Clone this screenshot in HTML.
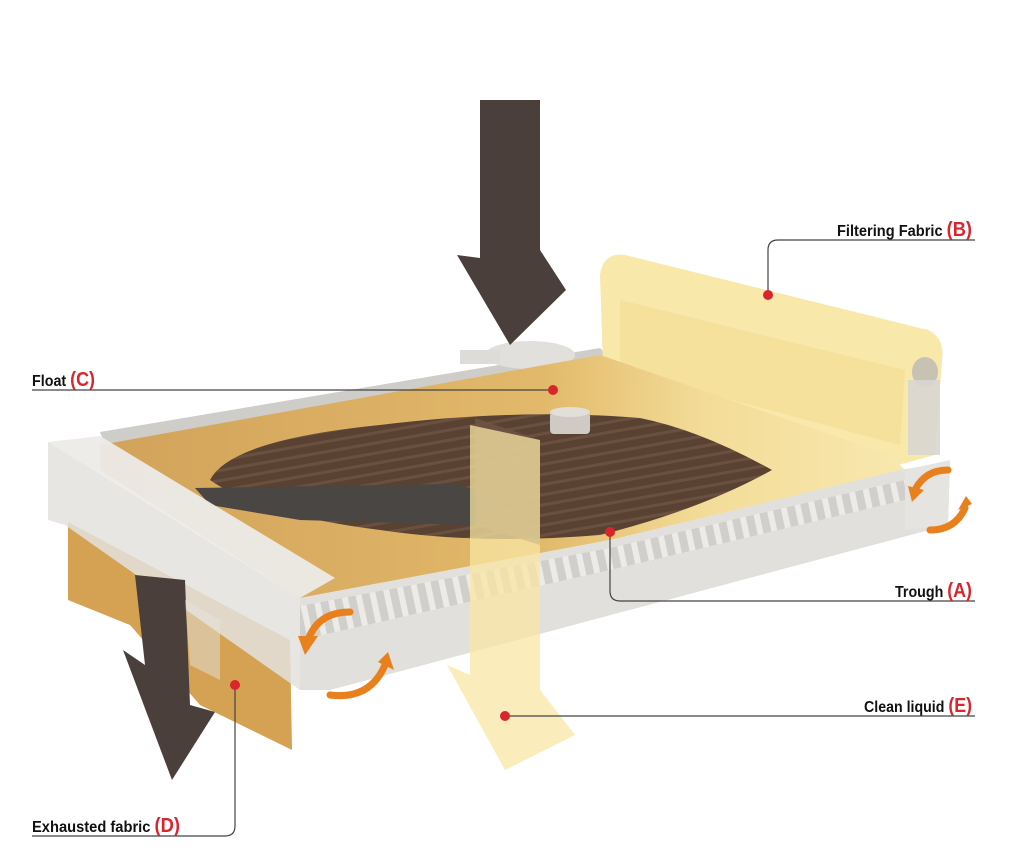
<!DOCTYPE html>
<html><head><meta charset="utf-8"><style>
html,body{margin:0;padding:0;background:#fff;}
svg{display:block}
text{font-family:"Liberation Sans Narrow","Liberation Sans",sans-serif;font-weight:bold;font-size:16px;fill:#111}
.r{fill:#d8262c;font-size:20px}
</style></head><body>
<svg width="1024" height="865" viewBox="0 0 1024 865" xmlns="http://www.w3.org/2000/svg">
<defs>
<linearGradient id="fab" x1="0" y1="0" x2="1" y2="0">
<stop offset="0" stop-color="#d2a25a"/><stop offset="0.55" stop-color="#e2b96a"/><stop offset="0.75" stop-color="#f3dc98"/><stop offset="1" stop-color="#f8e8ae"/>
</linearGradient>
<pattern id="grid" width="14" height="14" patternUnits="userSpaceOnUse" patternTransform="rotate(-12)">
<rect width="14" height="14" fill="#cfcdc9"/><rect x="0" y="0" width="6" height="14" fill="#eeece8"/>
</pattern>
<pattern id="mesh" width="10" height="10" patternUnits="userSpaceOnUse" patternTransform="rotate(-10)">
<rect width="10" height="10" fill="#5a4232"/><rect y="0" width="10" height="3" fill="#6a5040"/>
</pattern>
</defs>

<polygon points="100,432 600,348 610,358 105,445" fill="#cfcdc9"/>
<polygon points="170,440 330,410 332,415 172,446" fill="#f2f2f0"/>
<ellipse cx="530" cy="355" rx="45" ry="14" fill="#e2e0dc"/>
<rect x="460" y="350" width="40" height="14" fill="#dedcd8"/>

<path d="M600,275 Q603,252 625,255 L928,330 Q945,338 942,360 L935,455 L880,470 L603,365 Z" fill="#f8e8aa"/>
<path d="M620,300 L905,370 L900,445 L620,370 Z" fill="#f3dc92" opacity="0.6"/>
<ellipse cx="925" cy="372" rx="13" ry="15" fill="#c8c2b4"/>
<rect x="908" y="380" width="32" height="75" fill="#d8d6d2" opacity="0.9"/>

<polygon points="100,445 600,355 890,455 905,470 610,540 300,598 100,470" fill="url(#fab)"/>
<polygon points="300,598 610,540 900,470 950,462 948,525 330,690 300,690" fill="#e2e0dc"/>
<polygon points="300,606 610,548 905,480 905,500 610,570 300,640" fill="url(#grid)" opacity="0.9"/>
<polygon points="905,470 950,460 948,525 905,530" fill="#e6e4e0"/>

<path d="M210,480 Q230,440 380,425 Q520,408 640,418 Q700,430 772,470 Q700,510 600,535 Q480,545 380,530 Q260,515 210,480 Z" fill="url(#mesh)"/>
<polygon points="195,488 455,484 505,498 470,525 300,520 210,505" fill="#4a4644"/>
<polygon points="475,418 540,440 540,545 475,525" fill="#6e5444" opacity="0.85"/>
<rect x="550" y="412" width="40" height="22" rx="4" fill="#cfcbc4"/>
<ellipse cx="570" cy="412" rx="20" ry="5" fill="#e2ded8"/>

<polygon points="68,522 290,640 292,750 200,705 130,625 68,600" fill="#d4a252"/>
<polygon points="48,442 100,436 335,578 300,598" fill="#ecebe8" opacity="0.95"/>
<polygon points="48,442 300,598 300,690 65,525 48,520" fill="#e4e2de" opacity="0.85"/>
<polygon points="135,575 185,580 190,705 215,712 172,780 123,650 145,665" fill="#4a3f3a"/>
<polygon points="185,600 220,620 220,680 190,665" fill="#e4e2de" opacity="0.5"/>

<polygon points="470,425 540,440 540,690 575,735 505,770 447,665 470,675" fill="#f8e6a4" opacity="0.75"/>

<polygon points="480,100 540,100 540,250 566,290 510,345 457,255 480,258" fill="#4a3f3a"/>

<g fill="none" stroke="#e8801e" stroke-width="7" stroke-linecap="round">
<path d="M350,612 Q318,612 308,640"/>
<path d="M330,695 Q370,700 385,665"/>
<path d="M948,470 Q925,470 915,490"/>
<path d="M930,530 Q955,530 965,508"/>
</g>
<g fill="#e8801e">
<polygon points="298,636 318,636 305,655"/>
<polygon points="378,662 394,670 388,652"/>
<polygon points="908,486 924,490 912,502"/>
<polygon points="958,510 972,504 966,496"/>
</g>

<g fill="none" stroke="#444" stroke-width="1.2">
<path d="M975,240 L778,240 Q768,240 768,250 L768,295"/>
<path d="M32,390 L550,390"/>
<path d="M975,601 L620,601 Q610,601 610,591 L610,532"/>
<path d="M975,716 L505,716"/>
<path d="M32,836 L225,836 Q235,836 235,826 L235,685"/>
</g>
<g fill="#d8262c">
<circle cx="768" cy="295" r="5"/>
<circle cx="553" cy="390" r="5"/>
<circle cx="610" cy="532" r="5"/>
<circle cx="505" cy="716" r="5"/>
<circle cx="235" cy="685" r="5"/>
</g>

<text x="837" y="236" textLength="135" lengthAdjust="spacingAndGlyphs">Filtering Fabric <tspan class="r">(B)</tspan></text>
<text x="32" y="386" textLength="63" lengthAdjust="spacingAndGlyphs">Float <tspan class="r">(C)</tspan></text>
<text x="895" y="597" textLength="77" lengthAdjust="spacingAndGlyphs">Trough <tspan class="r">(A)</tspan></text>
<text x="864" y="712" textLength="108" lengthAdjust="spacingAndGlyphs">Clean liquid <tspan class="r">(E)</tspan></text>
<text x="32" y="832" textLength="148" lengthAdjust="spacingAndGlyphs">Exhausted fabric <tspan class="r">(D)</tspan></text>
</svg>
</body></html>
